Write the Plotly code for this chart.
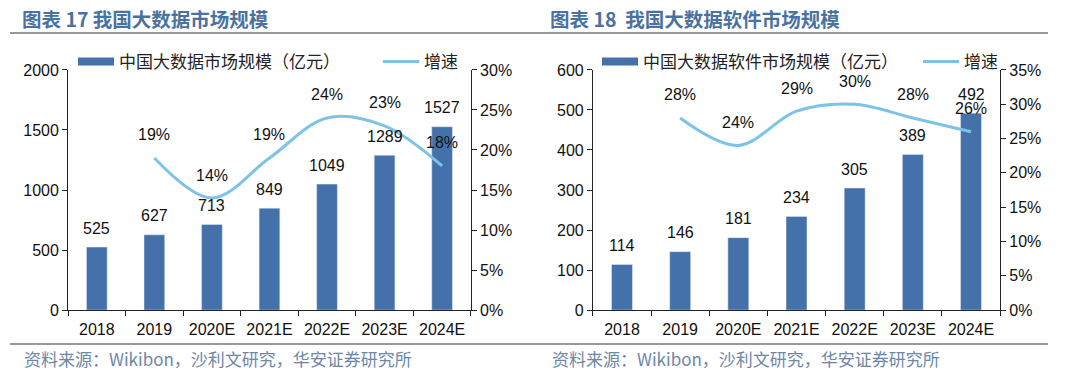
import plotly.graph_objects as go

categories = ["2018", "2019", "2020E", "2021E", "2022E", "2023E", "2024E"]
market_size = [525, 627, 713, 849, 1049, 1289, 1527]
market_growth = [None, 19, 14, 19, 24, 23, 18]
software_size = [114, 146, 181, 234, 305, 389, 492]
software_growth = [None, 28, 24, 29, 30, 28, 26]

left_ticks = [0, 500, 1000, 1500, 2000]
left_pct_ticks = [0, 5, 10, 15, 20, 25, 30]
right_ticks = [0, 100, 200, 300, 400, 500, 600]
right_pct_ticks = [0, 5, 10, 15, 20, 25, 30, 35]

title_left = "图表 17 我国大数据市场规模"
title_right = "图表 18  我国大数据软件市场规模"
bar_name_left = "中国大数据市场规模（亿元）"
bar_name_right = "中国大数据软件市场规模（亿元）"
line_name = "增速"
source = "资料来源：Wikibon，沙利文研究，华安证券研究所"

BAR = "#4471a9"
LINE = "#7cc3e7"
TITLE = "#4a72a0"
NUM_FONT = "Liberation Sans, Arial, sans-serif"
CJK_FONT = "Noto Sans CJK SC"

fig = go.Figure()


def add_panel(xa, ya_bar, ya_line, sizes, growth, bar_name, leg_bar, leg_line):
    fig.add_trace(go.Bar(x=categories, y=sizes, name=bar_name, marker_color=BAR, width=0.36,
                         showlegend=False, xaxis=xa, yaxis=ya_bar))
    fig.add_trace(go.Scatter(x=[categories[0]], y=[None], name=bar_name, mode="lines",
                             line=dict(color=BAR, width=8), xaxis=xa, yaxis=ya_bar, legend=leg_bar))
    fig.add_trace(go.Scatter(x=categories, y=growth, name=line_name, mode="lines",
                             line=dict(color=LINE, width=3, shape="spline"),
                             xaxis=xa, yaxis=ya_line, legend=leg_line))
    # category axis: annotations positioned by category index
    for i, v in enumerate(sizes):
        fig.add_annotation(x=i, y=v, xref=xa, yref=ya_bar, text=str(v), showarrow=False,
                           yshift=19, font=dict(size=16, color="#111", family=NUM_FONT))
    for i, v in enumerate(growth):
        if v is None:
            continue
        fig.add_annotation(x=i, y=v, xref=xa, yref=ya_line, text=f"{v}%", showarrow=False,
                           yshift=23, font=dict(size=16, color="#111", family=NUM_FONT))


add_panel("x", "y", "y2", market_size, market_growth, bar_name_left, "legend", "legend2")
add_panel("x2", "y3", "y4", software_size, software_growth, bar_name_right, "legend3", "legend4")

ydom = [0.184, 0.816]
axis_common = dict(showline=True, linecolor="#222", linewidth=1, ticks="outside", tickcolor="#222",
                   ticklen=5, showgrid=False, zeroline=False, automargin=False,
                   tickfont=dict(size=16, color="#111", family=NUM_FONT))

legend_common = dict(orientation="h", yanchor="middle", xanchor="left", y=1 - 62 / 380,
                     font=dict(size=17, family=CJK_FONT, color="#222"), bgcolor="rgba(0,0,0,0)",
                     itemwidth=36, tracegroupgap=0)

fig.update_layout(
    width=1080, height=380, margin=dict(l=0, r=0, t=0, b=0, autoexpand=False),
    paper_bgcolor="white", plot_bgcolor="white", showlegend=True,
    xaxis=dict(domain=[0.063, 0.436], anchor="y", type="category", categoryorder="array",
               categoryarray=categories, range=[-0.5, 6.5], ticklabelstandoff=5,
               tickson="boundaries", tickangle=0, **axis_common),
    yaxis=dict(domain=ydom, anchor="x", range=[0, 2000], tickvals=left_ticks, **axis_common),
    yaxis2=dict(overlaying="y", side="right", anchor="x", range=[0, 30], tickvals=left_pct_ticks,
                ticktext=[f"{t}%" for t in left_pct_ticks], **axis_common),
    xaxis2=dict(domain=[0.549, 0.926], anchor="y3", type="category", categoryorder="array",
                categoryarray=categories, range=[-0.5, 6.5], ticklabelstandoff=5,
                tickson="boundaries", tickangle=0, **axis_common),
    yaxis3=dict(domain=ydom, anchor="x2", range=[0, 600], tickvals=right_ticks, **axis_common),
    yaxis4=dict(overlaying="y3", side="right", anchor="x2", range=[0, 35], tickvals=right_pct_ticks,
                ticktext=[f"{t}%" for t in right_pct_ticks], **axis_common),
    legend=dict(x=73 / 1080, **legend_common),
    legend2=dict(x=378 / 1080, **legend_common),
    legend3=dict(x=597 / 1080, **legend_common),
    legend4=dict(x=918 / 1080, **legend_common),
    font=dict(family=NUM_FONT),
)

# continuous rules
for yy in (33, 344):
    fig.add_shape(type="line", xref="paper", yref="paper", x0=10 / 1080, x1=1048 / 1080,
                  y0=1 - yy / 380, y1=1 - yy / 380, line=dict(color="#777", width=1.5))

# titles, sources
for tx, title in [(20 / 1080, title_left), (548 / 1080, title_right)]:
    fig.add_annotation(text=f"<b>{title}</b>", x=tx, y=1 - 18 / 380,
                       xref="paper", yref="paper", xanchor="left", yanchor="middle", showarrow=False,
                       font=dict(size=19.5, color=TITLE, family=CJK_FONT))
    fig.add_annotation(text=source, x=tx + 2 / 1080, y=1 - 358 / 380,
                       xref="paper", yref="paper", xanchor="left", yanchor="middle", showarrow=False,
                       font=dict(size=17, color="#6d87a8", family=CJK_FONT))

fig.write_html("out.html", config={"displayModeBar": False},
               post_script="document.body.style.margin='0';document.body.style.padding='0';")
